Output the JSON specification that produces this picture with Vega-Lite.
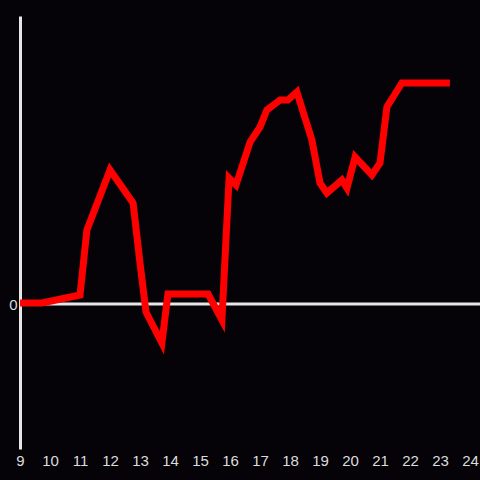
{
  "$schema": "https://vega.github.io/schema/vega-lite/v6.json",
  "width": 450,
  "height": 433,
  "autosize": {"type": "none"},
  "padding": {"left": 20, "top": 16, "right": 10, "bottom": 31},
  "background": "#050308",
  "config": {
    "view": {"stroke": null},
    "axis": {"labelOverlap": false, "labelFontSize": 15, "labelFont": "Liberation Sans", "labelColor": "#dcdcdc", "grid": false, "ticks": false, "title": null},
    "axisX": {"labelOverlap": false, "labelFontSize": 15},
    "axisQuantitative": {"labelOverlap": false, "labelFontSize": 15}
  },
  "encoding": {
    "x": {
      "field": "t", "type": "quantitative",
      "scale": {"domain": [9, 24], "nice": false, "zero": false},
      "axis": {"title": null, "domain": false, "ticks": false, "grid": false, "values": [9,10,11,12,13,14,15,16,17,18,19,20,21,22,23,24], "labelPadding": 4, "labelFlush": false, "labelOverlap": false, "labelFontSize": 15}
    },
    "y": {
      "field": "v", "type": "quantitative",
      "scale": {"domain": [-145, 288], "nice": false, "zero": false},
      "axis": {"title": null, "domainColor": "#e6e6e6", "domainWidth": 3, "ticks": false, "grid": false, "values": [0], "labelPadding": 3, "labelFontSize": 15}
    }
  },
  "layer": [
    {
      "data": {"values": [{"t": 9, "t2": 24.34, "v": 0}]},
      "mark": {"type": "rule", "color": "#e6e6e6", "strokeWidth": 3},
      "encoding": {
        "x2": {"field": "t2"}
      }
    },
    {
      "data": {"values": [
        {"t": 9.0, "v": 1},
        {"t": 9.73, "v": 1},
        {"t": 11.0, "v": 9},
        {"t": 11.23, "v": 74},
        {"t": 12.0, "v": 134},
        {"t": 12.77, "v": 101},
        {"t": 13.0, "v": 41},
        {"t": 13.2, "v": -8},
        {"t": 13.73, "v": -39},
        {"t": 13.93, "v": 10},
        {"t": 15.27, "v": 10},
        {"t": 15.73, "v": -16},
        {"t": 15.97, "v": 126},
        {"t": 16.2, "v": 119},
        {"t": 16.67, "v": 162},
        {"t": 17.0, "v": 177},
        {"t": 17.23, "v": 194},
        {"t": 17.67, "v": 204},
        {"t": 17.93, "v": 204},
        {"t": 18.23, "v": 212},
        {"t": 18.73, "v": 164},
        {"t": 19.0, "v": 121},
        {"t": 19.23, "v": 111},
        {"t": 19.73, "v": 124},
        {"t": 19.9, "v": 116},
        {"t": 20.17, "v": 147},
        {"t": 20.73, "v": 129},
        {"t": 21.0, "v": 141},
        {"t": 21.23, "v": 197},
        {"t": 21.73, "v": 221},
        {"t": 23.33, "v": 221}
      ]},
      "mark": {"type": "line", "color": "#ff0000", "strokeWidth": 7, "strokeJoin": "miter", "strokeCap": "butt"}
    }
  ]
}
